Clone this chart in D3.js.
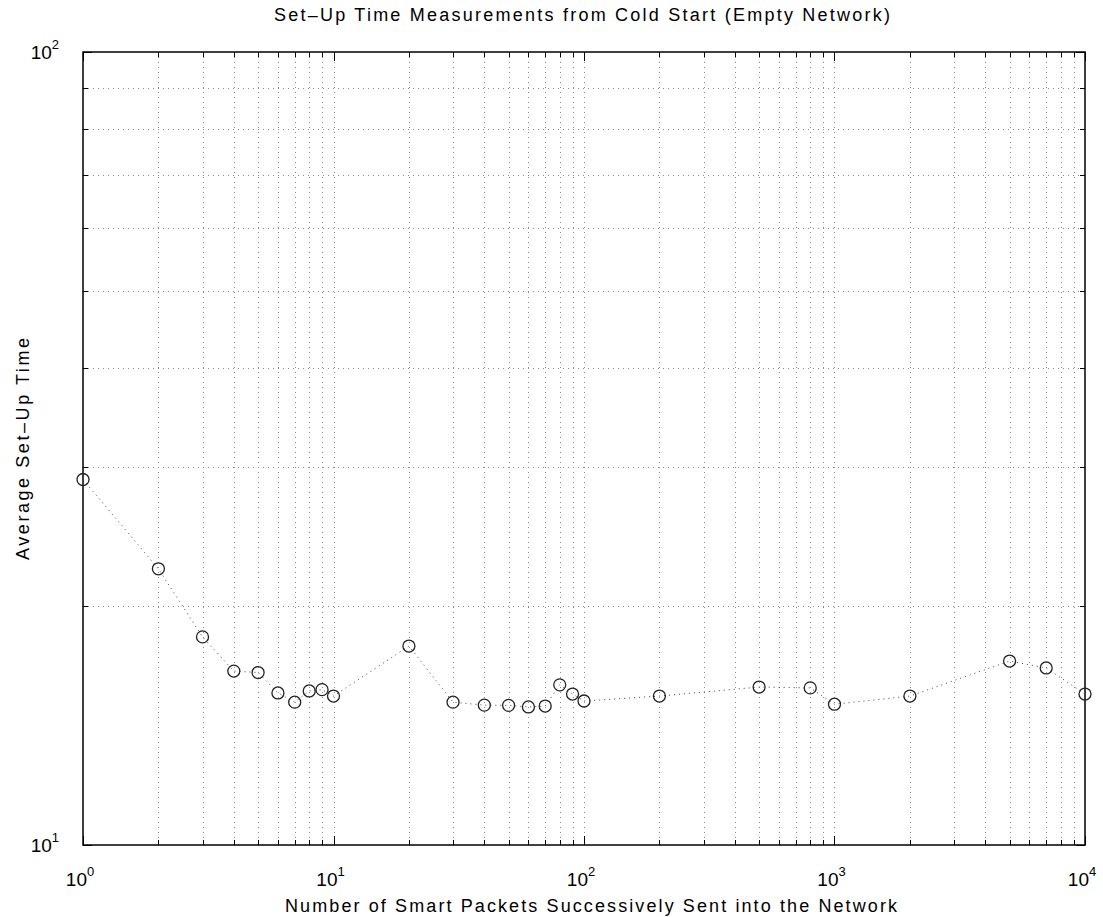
<!DOCTYPE html>
<html><head><meta charset="utf-8">
<script src="https://cdn.jsdelivr.net/npm/d3@7"></script>
<style>body{margin:0;background:#fff;} text{font-family:"Liberation Sans",Arial,sans-serif;fill:#000;}</style>
</head><body>
<svg id="c" width="1103" height="917"></svg>
<script>
const packets = [1,2,3,4,5,6,7,8,9,10,20,30,40,50,60,70,80,90,100,200,500,800,1000,2000,5000,7000,10000];
const setupTime = [28.9,22.3,18.3,16.57,16.5,15.55,15.14,15.64,15.7,15.41,17.82,15.14,15.01,15.0,14.93,14.97,15.92,15.5,15.19,15.41,15.82,15.78,15.05,15.41,17.06,16.72,15.5];
const xDecades = [0,1,2,3,4];
const yDecades = [1,2];
const title = "Set\u2013Up Time Measurements from Cold Start (Empty Network)";
const xLabel = "Number of Smart Packets Successively Sent into the Network";
const yLabel = "Average Set\u2013Up Time";

const svg = d3.select("#c");
const L=83, R=1085, T=52, B=845;
const x = d3.scaleLog().domain([1,1e4]).range([L,R]);
const y = d3.scaleLog().domain([10,100]).range([B,T]);

const xMinor = [];
for (let d=0; d<4; d++) for (let m=2;m<=9;m++) xMinor.push(m*Math.pow(10,d));
const xMajor = xDecades.map(d=>Math.pow(10,d));
const yMinor = d3.range(2,10).map(m=>m*10);
const yMajor = yDecades.map(d=>Math.pow(10,d));

const g = svg.append("g");
const gridStyle = s=>s.attr("stroke","#8a8a8a").attr("stroke-width",1).attr("stroke-dasharray","1,4");
g.selectAll(".gx").data(xMinor.concat(xMajor.slice(1,-1))).enter().append("line")
 .attr("x1",d=>Math.round(x(d))+0.5).attr("x2",d=>Math.round(x(d))+0.5).attr("y1",T).attr("y2",B).call(gridStyle);
g.selectAll(".gy").data(yMinor).enter().append("line")
 .attr("y1",d=>Math.round(y(d))+0.5).attr("y2",d=>Math.round(y(d))+0.5).attr("x1",L).attr("x2",R).call(gridStyle);

const tk = (x1,y1,x2,y2)=>g.append("line").attr("x1",x1).attr("y1",y1).attr("x2",x2).attr("y2",y2).attr("stroke","#000").attr("stroke-width",1);
xMinor.forEach(d=>{const p=Math.round(x(d))+0.5; tk(p,B,p,B-5); tk(p,T,p,T+5);});
xMajor.forEach(d=>{const p=Math.round(x(d))+0.5; tk(p,B,p,B-9); tk(p,T,p,T+9);});
yMinor.forEach(d=>{const p=Math.round(y(d))+0.5; tk(L,p,L+5,p); tk(R,p,R-5,p);});
yMajor.forEach(d=>{const p=Math.round(y(d))+0.5; tk(L,p,L+9,p); tk(R,p,R-9,p);});

g.append("rect").attr("x",L).attr("y",T).attr("width",R-L).attr("height",B-T).attr("fill","none").attr("stroke","#000").attr("stroke-width",1.5);

g.append("path").datum(packets.map((p,i)=>[p,setupTime[i]]))
 .attr("d",d3.line().x(d=>x(d[0])).y(d=>y(d[1])))
 .attr("fill","none").attr("stroke","#444").attr("stroke-width",1).attr("stroke-dasharray","1,4");
g.selectAll(".pt").data(packets).enter().append("circle")
 .attr("cx",d=>x(d)).attr("cy",(d,i)=>y(setupTime[i])).attr("r",6)
 .attr("fill","none").attr("stroke","#222").attr("stroke-width",1.3);

xDecades.forEach(d=>{
  const t=g.append("text").attr("x",x(Math.pow(10,d))-3).attr("y",886).attr("text-anchor","middle").attr("font-size",19);
  t.append("tspan").text("10");
  t.append("tspan").attr("dy",-10).attr("font-size",13).text(d);
});
yDecades.forEach(d=>{
  const t=g.append("text").attr("x",L-24).attr("y",y(Math.pow(10,d))+7).attr("text-anchor","end").attr("font-size",19);
  t.append("tspan").text("10");
  t.append("tspan").attr("dy",-10).attr("font-size",13).text(d);
});

svg.append("text").attr("x",274).attr("y",21).attr("font-size",18)
 .attr("textLength",616).attr("lengthAdjust","spacing").text(title);
svg.append("text").attr("x",285).attr("y",912).attr("font-size",18)
 .attr("textLength",612).attr("lengthAdjust","spacing").text(xLabel);
svg.append("text").attr("transform","translate(29,560) rotate(-90)").attr("font-size",18)
 .attr("textLength",222).attr("lengthAdjust","spacing").text(yLabel);
</script>
</body></html>
